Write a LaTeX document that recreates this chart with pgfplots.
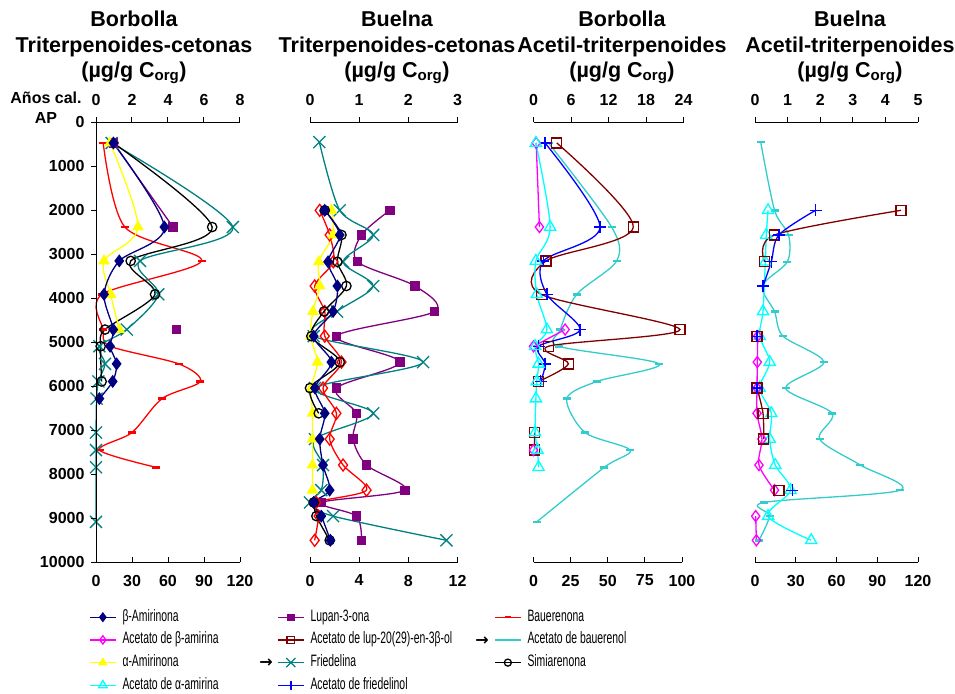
\documentclass[border=0pt]{standalone}
\usepackage{fontspec}
\setmainfont{Liberation Sans}
\newfontfamily\legfont[FakeStretch=0.63]{Liberation Sans}
\newfontfamily\arrowfont{DejaVu Sans}
\usepackage{pgfplots}
\pgfplotsset{compat=1.18}
\definecolor{cnavy}{RGB}{0,0,128}
\definecolor{cmag}{RGB}{255,0,255}
\definecolor{cyel}{RGB}{255,255,0}
\definecolor{ccyan}{RGB}{0,255,255}
\definecolor{cpurp}{RGB}{128,0,128}
\definecolor{cdred}{RGB}{128,0,0}
\definecolor{cteal}{RGB}{0,128,128}
\definecolor{cblue}{RGB}{0,0,255}
\definecolor{cred}{RGB}{255,0,0}
\definecolor{cbau}{RGB}{51,204,204}
\pgfplotsset{
 s/.style={line width=1.3pt, smooth, tension=0.5},
 betaAm/.style={s, color=cnavy, mark=diamond*, mark size=5.5pt, mark options={solid}},
 acBeta/.style={s, color=cmag, mark=diamond, mark size=5.5pt, mark options={solid, fill=white}},
 alphaAm/.style={s, color=cyel, mark=triangle*, mark size=5.5pt, mark options={solid}},
 acAlpha/.style={s, color=ccyan, mark=triangle, mark size=6.5pt, mark options={solid}},
 lupan/.style={s, color=cpurp, mark=square*, mark size=4pt, mark options={solid}},
 acLup/.style={s, color=cdred, mark=square, mark size=5pt, mark options={solid}},
 fried/.style={s, color=cteal, mark=x, mark size=8.5pt, mark options={solid}},
 acFried/.style={s, color=cblue, mark=+, mark size=6pt, mark options={solid}},
 bauer/.style={s, color=cred, mark=-, mark size=4pt, mark options={solid, line width=2.5pt}},
 bauerDia/.style={s, color=cred, mark=diamond, mark size=6pt, mark options={solid}},
 acBau/.style={s, color=cbau, mark=-, mark size=4pt, mark options={solid, line width=2.5pt}},
 simi/.style={s, color=black, mark=o, mark size=4.7pt, mark options={solid}},
 base/.style={scale only axis, height=440pt, ymin=0, ymax=10000, y dir=reverse,
   clip=false, unbounded coords=jump, anchor=south west,
   scaled x ticks=false, scaled y ticks=false,
   ticklabel style={font=\bfseries\fontsize{16}{16}\selectfont},
   /pgf/number format/assume math mode=true,
   /pgf/number format/set thousands separator={},
   major tick length=5pt,
   every tick/.style={black, line width=1pt},
   axis line style={-, line width=1pt}},
 dataax/.style={base, axis x line*=bottom, hide y axis, tick align=inside,
   xticklabel style={yshift=-9pt}},
 topax/.style={base, axis x line*=top, tick align=outside,
   xticklabel style={yshift=8pt}},
 legax/.style={hide axis, scale only axis, width=10pt, height=10pt, xmin=0, xmax=1, ymin=0, ymax=1,
   anchor=north west,
   legend cell align=left,
   legend style={at={(0,1)}, anchor=north west, draw=none, fill=none,
     font=\legfont\fontsize{16.5}{16.5}\selectfont, row sep=8.7pt,
     nodes={inner sep=0pt, text height=11pt, text depth=3pt},
     /tikz/every odd column/.append style={column sep=6pt}},
   legend image code/.code={\draw[mark repeat=2, mark phase=2, every mark/.append style={scale=0.75}] plot coordinates {(0pt,0pt) (13pt,0pt) (26pt,0pt)};}},
}
\begin{document}
\begin{tikzpicture}
\useasboundingbox (0,0) rectangle (955pt,-693pt);
% ---------- titles
\begin{scope}[every node/.style={font=\bfseries\fontsize{21.5}{25.5}\selectfont, align=center, anchor=north, inner sep=0pt}]
\node at (134pt,-11pt) {Borbolla\\Triterpenoides-cetonas\\(µg/g C\textsubscript{org})};
\node at (397pt,-11pt) {Buelna\\Triterpenoides-cetonas\\(µg/g C\textsubscript{org})};
\node at (622pt,-11pt) {Borbolla\\Acetil-triterpenoides\\(µg/g C\textsubscript{org})};
\node at (850pt,-11pt) {Buelna\\Acetil-triterpenoides\\(µg/g C\textsubscript{org})};
\end{scope}
\node[font=\bfseries\fontsize{16}{16}\selectfont, anchor=base] at (46pt,-103pt) {Años cal.};
\node[font=\bfseries\fontsize{16}{16}\selectfont, anchor=base] at (46pt,-123pt) {AP};

% ---------- Panel 1: Borbolla cetonas
\begin{axis}[dataax, at={(96pt,-562.3pt)}, width=144pt, xmin=0, xmax=120, xtick={0,30,60,90,120}]
\addplot[bauer] coordinates {(6,470) (24,2380) (88,3150) (5,3910) (6,4710) (12,5090) (69,5490) (87,5890) (55,6280) (30,7050) (3,7450) (50,7840)};
\addplot[fried] coordinates {(13,470) (114,2380) (36.7,3150) (51.9,3910) (25.6,4710) (2.8,5090) (7.5,5490) (2,5890) (0.5,6280) (0,7050) (0,7450) (0,7840) (0,9080)};
\addplot[simi] coordinates {(14.5,470) (96.8,2380) (28.9,3150) (49.2,3910) (7.5,4710) (3.9,5090) (4.7,5890)};
\addplot[lupan] coordinates {(14.5,470) (64.2,2380) (nan,3150) (67.2,4710)};
\addplot[alphaAm] coordinates {(11.7,470) (35,2380) (6.7,3150) (12.2,3910) (19.4,4710)};
\addplot[betaAm] coordinates {(14.5,470) (57,2380) (19.4,3150) (6.7,3910) (14.4,4710) (11.7,5090) (17.2,5490) (13.9,5890) (2.8,6280)};
\end{axis}
\begin{axis}[topax, at={(96pt,-562.3pt)}, width=144pt, xmin=0, xmax=8, xtick={0,2,4,6,8},
  axis y line*=left, ytick={0,1000,...,10000}, yticklabel style={xshift=-3pt}]
\end{axis}

% ---------- Panel 2: Buelna cetonas
\begin{axis}[dataax, at={(310pt,-562.3pt)}, width=147.5pt, xmin=0, xmax=12, xtick={0,4,8,12}]
\addplot[lupan] coordinates {(6.5,2000) (4.19,2560) (3.86,3170) (8.54,3720) (10.15,4300) (2.15,4860) (7.32,5450) (2.15,6040) (3.78,6614) (3.5,7200) (4.6,7790) (7.73,8360) (0.92,8640) (3.78,8950) (4.19,9500)};
\addplot[fried] coordinates {(0.76,450) (2.42,2000) (5.14,2560) (2.69,3170) (5.14,3720) (2.2,4300) (0.3,4860) (9.2,5450) (0.4,6040) (5.14,6614) (0.4,7200) (1.06,7790) (0.92,8360) (0,8640) (1.88,8950) (11.1,9500)};
\addplot[bauerDia] coordinates {(0.79,2000) (1.6,2560) (1.9,3170) (0.38,3720) (1.2,4300) (1.2,4860) (2.56,5450) (1.06,6040) (2.15,6614) (1.6,7200) (2.69,7790) (4.6,8360) (0.5,8640) (0.7,8950) (0.38,9500)};
\addplot[alphaAm] coordinates {(1.74,2000) (1.88,2560) (0.71,3170) (0.79,3720) (0.24,4300) (0.05,4860) (0.6,5450) (0.1,6040) (0.2,6614) (0.2,7200) (0.2,7790) (0.2,8360)};
\addplot[simi] coordinates {(1.2,2000) (2.56,2560) (2.23,3170) (2.96,3720) (1.14,4300) (0.11,4860) (2.42,5450) (0,6040) (0.71,6614) (nan,7200) (0.3,8640) (0.52,8950) (1.6,9500)};
\addplot[betaAm] coordinates {(1.2,2000) (2.42,2560) (1.47,3170) (2.23,3720) (1.88,4300) (0.3,4860) (1.74,5450) (0.4,6040) (1.2,6614) (0.79,7200) (1.06,7790) (1.6,8360) (0.3,8640) (0.92,8950) (1.66,9500)};
\end{axis}
\begin{axis}[topax, at={(310pt,-562.3pt)}, width=147.5pt, xmin=0, xmax=3, xtick={0,1,2,3}, hide y axis]
\end{axis}

% ---------- Panel 3: Borbolla acetil
\begin{axis}[dataax, at={(533.5pt,-562.3pt)}, width=148.5pt, xmin=0, xmax=100, xtick={0,25,50,75,100}]
\addplot[acBau] coordinates {(10.1,470) (52.6,2380) (56,3150) (29.1,3910) (18,4710) (17,5090) (84.7,5490) (42.6,5890) (22.4,6280) (34.7,7050) (65,7450) (47.7,7840) (2.2,9080)};
\addplot[acLup] coordinates {(15.7,470) (67.2,2380) (8.5,3150) (5.2,3910) (98.6,4710) (10.1,5090) (23.5,5490) (3.4,5890) (nan,6280) (0.7,7050) (0.7,7450)};
\addplot[acFried] coordinates {(7.8,470) (44.8,2380) (6.7,3150) (9,3910) (31.4,4710) (3.4,5090) (7.8,5490) (4.9,5890)};
\addplot[acBeta] coordinates {(1.8,470) (4,2380) (nan,3150) (21.3,4710) (0,5090) (nan,5490) (0,7450)};
\addplot[acAlpha] coordinates {(1.6,470) (11.2,2380) (1.6,3150) (2.2,3910) (9,4710) (1.1,5090) (3.4,5490) (2.2,5890) (1.6,6280) (1.1,7050) (2.7,7450) (3.4,7840)};
\end{axis}
\begin{axis}[topax, at={(533.5pt,-562.3pt)}, width=150pt, xmin=0, xmax=24, xtick={0,6,12,18,24}, hide y axis]
\end{axis}

% ---------- Panel 4: Buelna acetil
\begin{axis}[dataax, at={(755pt,-562.3pt)}, width=163pt, xmin=0, xmax=120, xtick={0,30,60,90,120}]
\addplot[acBau] coordinates {(4.2,450) (14.4,2000) (24.7,2560) (23.8,3170) (5.4,3720) (14.4,4300) (20.6,4860) (50.7,5450) (22.5,6040) (56.8,6614) (47.5,7200) (77.6,7790) (107,8360) (6.6,8640) (10.8,8950) (2.9,9500)};
\addplot[acAlpha] coordinates {(9.6,2000) (8.3,2560) (7.6,3170) (5.9,4300) (3.4,4860) (10.8,5450) (3.4,6040) (12,6614) (10.8,7200) (14.9,7790) (26.2,8360) (9.6,8950) (41.4,9500)};
\addplot[acBeta] coordinates {(2,4860) (1.7,5450) (1.5,6040) (1.5,6614) (5.1,7200) (2.9,7790) (14.4,8360) (nan,8640) (0.5,8950) (1,9500)};
\addplot[acLup] coordinates {(107.5,2000) (14.4,2560) (7.1,3170) (nan,3720) (1.5,4860) (nan,5450) (1.5,6040) (5.9,6614) (6.4,7200) (nan,7790) (17.6,8360)};
\addplot[acFried] coordinates {(44.6,2000) (17.6,2560) (12,3170) (5.9,3720) (nan,4300) (1.5,4860) (nan,5450) (1.5,6040) (nan,6614) (27.4,8360)};
\end{axis}
\begin{axis}[topax, at={(755pt,-562.3pt)}, width=163pt, xmin=0, xmax=5, xtick={0,1,2,3,4,5}, hide y axis]
\end{axis}

% ---------- Legend
\begin{axis}[legax, at={(86pt,-608pt)}]
\addlegendimage{betaAm}\addlegendentry{β-Amirinona}
\addlegendimage{acBeta}\addlegendentry{Acetato de β-amirina}
\addlegendimage{alphaAm}\addlegendentry{α-Amirinona}
\addlegendimage{acAlpha}\addlegendentry{Acetato de α-amirina}
\end{axis}
\begin{axis}[legax, at={(274pt,-608pt)}]
\addlegendimage{lupan}\addlegendentry{Lupan-3-ona}
\addlegendimage{acLup}\addlegendentry{Acetato de lup-20(29)-en-3β-ol}
\addlegendimage{fried}\addlegendentry{Friedelina}
\addlegendimage{acFried}\addlegendentry{Acetato de friedelinol}
\end{axis}
\begin{axis}[legax, at={(491pt,-608pt)}]
\addlegendimage{bauer}\addlegendentry{Bauerenona}
\addlegendimage{acBau}\addlegendentry{Acetato de bauerenol}
\addlegendimage{simi}\addlegendentry{Simiarenona}
\end{axis}
\node[font=\arrowfont\bfseries\fontsize{16}{16}\selectfont] at (266pt,-663pt) {→};
\node[font=\arrowfont\bfseries\fontsize{16}{16}\selectfont] at (482pt,-641pt) {→};
\end{tikzpicture}
\end{document}
